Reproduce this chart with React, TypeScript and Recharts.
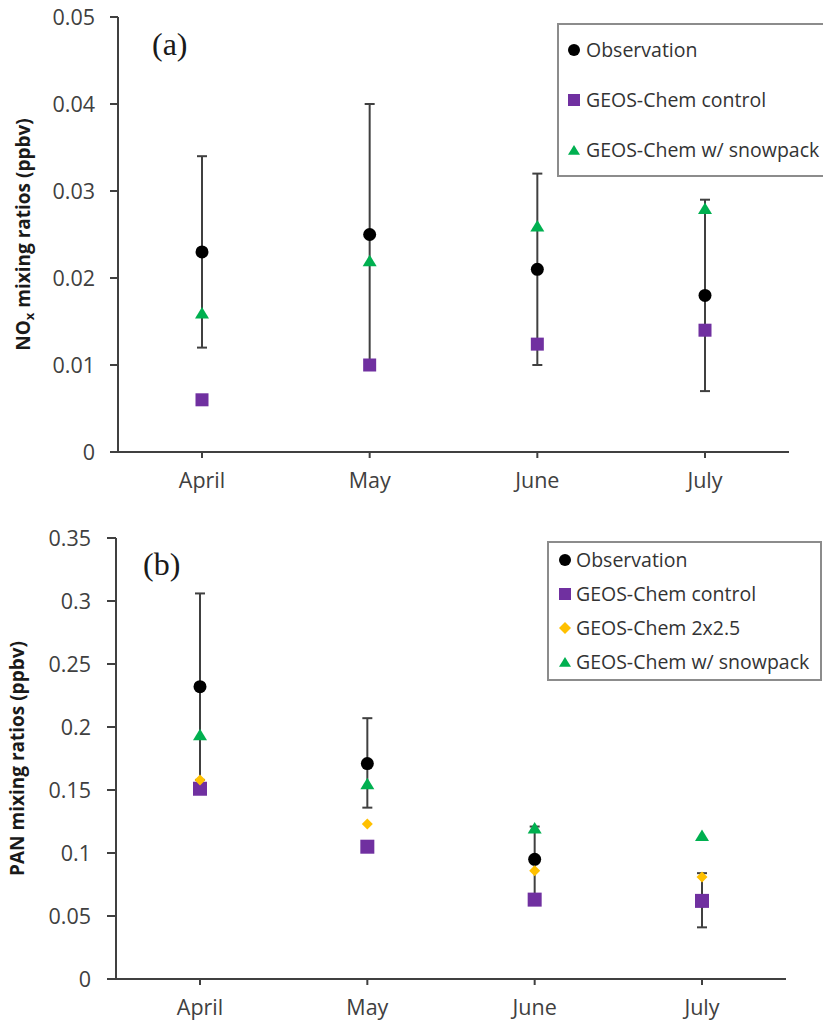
import React from 'react';
import { ComposedChart, Scatter, XAxis, YAxis, ErrorBar, Legend } from 'recharts';

// ---------- shared categories ----------
const months = ['April', 'May', 'June', 'July'];

// ---------- panel (a): NOx ----------
const noxObs = [0.023, 0.025, 0.021, 0.018];
const noxObsLow = [0.012, 0.010, 0.010, 0.007];
const noxObsHigh = [0.034, 0.040, 0.032, 0.029];
const noxControl = [0.006, 0.010, 0.0124, 0.014];
const noxSnow = [0.016, 0.022, 0.026, 0.028];
const noxTicks = [0, 0.01, 0.02, 0.03, 0.04, 0.05];

// ---------- panel (b): PAN ----------
const panObs = [0.232, 0.171, 0.095, 0.062];
const panObsLow = [0.158, 0.136, 0.066, 0.041];
const panObsHigh = [0.306, 0.207, 0.121, 0.084];
const panControl = [0.151, 0.105, 0.063, 0.062];
const pan2x25 = [0.158, 0.123, 0.086, 0.081];
const panSnow = [0.194, 0.155, 0.120, 0.114];
const panTicks = [0, 0.05, 0.1, 0.15, 0.2, 0.25, 0.3, 0.35];

const seriesOrder = ['obs', 'control', 'r2x25', 'snow'];
const seriesNames = {
  obs: 'Observation',
  control: 'GEOS-Chem control',
  r2x25: 'GEOS-Chem 2x2.5',
  snow: 'GEOS-Chem w/ snowpack',
};

const BLACK = '#000000';
const PURPLE = '#7030A0';
const GREEN = '#00B050';
const ORANGE = '#FFC000';
const AXIS = '#404040';
const FONT = "'Open Sans', sans-serif";

const noxData = months.map((m, i) => ({
  month: m,
  obs: noxObs[i],
  err: [noxObs[i] - noxObsLow[i], noxObsHigh[i] - noxObs[i]],
  control: noxControl[i],
  snow: noxSnow[i],
}));

const panData = months.map((m, i) => ({
  month: m,
  obs: panObs[i],
  err: [panObs[i] - panObsLow[i], panObsHigh[i] - panObs[i]],
  control: panControl[i],
  r2x25: pan2x25[i],
  snow: panSnow[i],
}));

const MARKERS: Record<string, (cx: number, cy: number, s: number) => React.ReactElement> = {
  obs: (cx, cy, s) => <circle cx={cx} cy={cy} r={s / 2} fill={BLACK} />,
  control: (cx, cy, s) => <rect x={cx - s / 2} y={cy - s / 2} width={s} height={s} fill={PURPLE} />,
  r2x25: (cx, cy, s) => (
    <polygon
      points={`${cx},${cy - s / 2} ${cx + s / 2},${cy} ${cx},${cy + s / 2} ${cx - s / 2},${cy}`}
      fill={ORANGE}
    />
  ),
  snow: (cx, cy, s) => (
    <polygon
      points={`${cx - s / 2},${cy + s * 0.4} ${cx + s / 2},${cy + s * 0.4} ${cx},${cy - s * 0.42}`}
      fill={GREEN}
    />
  ),
};

const shapeOf = (key: string, size: number) => (p: any) => {
  if (p == null || p.cx == null || p.cy == null || isNaN(p.cy)) return <g />;
  return MARKERS[key](p.cx, p.cy, size);
};

function makeLegend(rowH: number, markerX: number, textX: number) {
  return function LegendBox(props: any) {
    const payload = [...(props.payload || [])].sort(
      (a: any, b: any) => seriesOrder.indexOf(String(a.dataKey)) - seriesOrder.indexOf(String(b.dataKey))
    );
    return (
      <div
        style={{
          border: '2px solid #8c8c8c',
          background: '#fff',
          boxSizing: 'border-box',
        }}
      >
        {payload.map((e: any) => (
          <div key={String(e.dataKey)} style={{ position: 'relative', height: rowH }}>
            <svg
              width={16}
              height={16}
              style={{ position: 'absolute', left: markerX - 8, top: rowH / 2 - 8 }}
            >
              {MARKERS[String(e.dataKey)](8, 8, 12)}
            </svg>
            <span
              style={{
                position: 'absolute',
                left: textX,
                top: 0,
                lineHeight: rowH + 'px',
                fontSize: 19.5,
                fontFamily: FONT,
                color: '#333333',
                whiteSpace: 'nowrap',
              }}
            >
              {e.value}
            </span>
          </div>
        ))}
      </div>
    );
  };
}

const fmt = (v: number) => String(Number(v.toFixed(3)));

const makeYLabel = (kind: 'nox' | 'pan', fallbackY: number, cx: number) => (props: any) => {
  const vb = props && props.viewBox;
  const cy = vb && typeof vb.y === 'number' ? vb.y + vb.height / 2 : fallbackY;
  return (
    <text
      x={cx}
      y={cy}
      transform={`rotate(-90, ${cx}, ${cy})`}
      textAnchor="middle"
      fontFamily={FONT}
      fontWeight="bold"
      fontSize={19}
      fill="#1a1a1a"
    >
      {kind === 'nox' ? (
        <>
          NO
          <tspan dy={4} fontSize={13}>x</tspan>
          <tspan dy={-4}> mixing ratios (ppbv)</tspan>
        </>
      ) : (
        'PAN mixing ratios (ppbv)'
      )}
    </text>
  );
};

const tickStyle = { fontSize: 21.5, fill: AXIS, fontFamily: FONT };

export default function App() {
  return (
    <div
      style={{
        position: 'absolute',
        left: 0,
        top: 0,
        width: 823,
        height: 1023,
        overflow: 'hidden',
        background: '#fff',
      }}
    >
      {/* Panel (a) */}
      <div style={{ position: 'absolute', left: 0, top: 0 }}>
        <ComposedChart
          width={823}
          height={510}
          data={noxData}
          margin={{ top: 17, right: 34, left: 0, bottom: 18 }}
        >
          <XAxis
            dataKey="month"
            type="category"
            interval={0}
            height={40}
            padding={{ left: 84, right: 84 }}
            axisLine={{ stroke: AXIS, strokeWidth: 2 }}
            tickLine={{ stroke: AXIS, strokeWidth: 2 }}
            tickSize={6}
            tickMargin={15}
            tick={tickStyle}
          />
          <YAxis
            type="number"
            domain={[0, 0.05]}
            ticks={noxTicks}
            tickFormatter={fmt}
            width={118}
            axisLine={{ stroke: AXIS, strokeWidth: 2 }}
            tickLine={{ stroke: AXIS, strokeWidth: 2 }}
            tickSize={8}
            tickMargin={15}
            tick={tickStyle}
            label={makeYLabel('nox', 234, 30)}
          />
          <Legend
            layout="vertical"
            align="center"
            verticalAlign="middle"
            content={makeLegend(50, 15, 27)}
            wrapperStyle={{ left: 557, top: 23, width: 272 }}
          />
          <Scatter
            name={seriesNames.obs}
            dataKey="obs"
            fill={BLACK}
            shape={shapeOf('obs', 13)}
            isAnimationActive={false}
          >
            <ErrorBar dataKey="err" direction="y" width={5} stroke={AXIS} strokeWidth={2} />
          </Scatter>
          <Scatter
            name={seriesNames.control}
            dataKey="control"
            fill={PURPLE}
            shape={shapeOf('control', 13)}
            isAnimationActive={false}
          />
          <Scatter
            name={seriesNames.snow}
            dataKey="snow"
            fill={GREEN}
            shape={shapeOf('snow', 14)}
            isAnimationActive={false}
          />
        </ComposedChart>
      </div>

      {/* Panel (b) */}
      <div style={{ position: 'absolute', left: 0, top: 520 }}>
        <ComposedChart
          width={823}
          height={503}
          data={panData}
          margin={{ top: 18, right: 37, left: 0, bottom: 4 }}
        >
          <XAxis
            dataKey="month"
            type="category"
            interval={0}
            height={40}
            padding={{ left: 84, right: 84 }}
            axisLine={{ stroke: AXIS, strokeWidth: 2 }}
            tickLine={{ stroke: AXIS, strokeWidth: 2 }}
            tickSize={6}
            tickMargin={15}
            tick={tickStyle}
          />
          <YAxis
            type="number"
            domain={[0, 0.35]}
            ticks={panTicks}
            tickFormatter={fmt}
            width={116}
            axisLine={{ stroke: AXIS, strokeWidth: 2 }}
            tickLine={{ stroke: AXIS, strokeWidth: 2 }}
            tickSize={9}
            tickMargin={16}
            tick={tickStyle}
            label={makeYLabel('pan', 238, 24)}
          />
          <Legend
            layout="vertical"
            align="center"
            verticalAlign="middle"
            content={makeLegend(34, 16, 27)}
            wrapperStyle={{ left: 547, top: 21, width: 275 }}
          />
          <Scatter
            name={seriesNames.obs}
            dataKey="obs"
            fill={BLACK}
            shape={shapeOf('obs', 13)}
            isAnimationActive={false}
          >
            <ErrorBar dataKey="err" direction="y" width={5} stroke={AXIS} strokeWidth={2} />
          </Scatter>
          <Scatter
            name={seriesNames.control}
            dataKey="control"
            fill={PURPLE}
            shape={shapeOf('control', 14)}
            isAnimationActive={false}
          />
          <Scatter
            name={seriesNames.r2x25}
            dataKey="r2x25"
            fill={ORANGE}
            shape={shapeOf('r2x25', 11)}
            isAnimationActive={false}
          />
          <Scatter
            name={seriesNames.snow}
            dataKey="snow"
            fill={GREEN}
            shape={shapeOf('snow', 14)}
            isAnimationActive={false}
          />
        </ComposedChart>
      </div>

      {/* panel tags */}
      <svg
        width={823}
        height={1023}
        style={{ position: 'absolute', left: 0, top: 0, pointerEvents: 'none' }}
      >
        <text x={152} y={55} fontFamily="'Liberation Serif', serif" fontSize={32} fill="#1a1a1a">
          (a)
        </text>
        <text x={143} y={575} fontFamily="'Liberation Serif', serif" fontSize={32} fill="#1a1a1a">
          (b)
        </text>
      </svg>
    </div>
  );
}
